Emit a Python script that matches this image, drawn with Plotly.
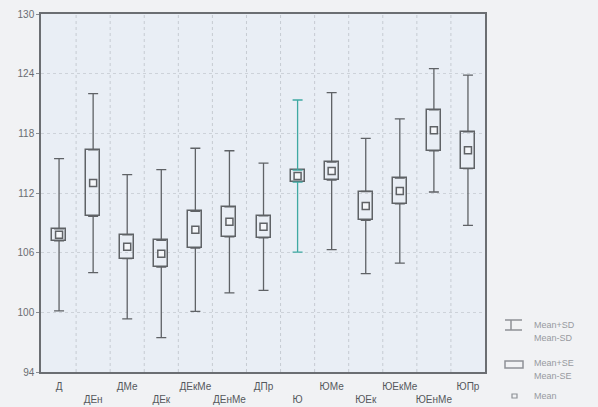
import plotly.graph_objects as go

categories = ["Д", "ДЕн", "ДМе", "ДЕк", "ДЕкМе", "ДЕнМе", "ДПр",
              "Ю", "ЮМе", "ЮЕк", "ЮЕкМе", "ЮЕнМе", "ЮПр"]
means = [107.8, 113.0, 106.6, 105.9, 108.3, 109.1, 108.6,
         113.7, 114.2, 110.7, 112.2, 118.3, 116.3]
sds = [7.65, 9.0, 7.25, 8.45, 8.2, 7.15, 6.4,
       7.65, 7.9, 6.8, 7.25, 6.2, 7.55]
ses = [0.6, 3.35, 1.2, 1.35, 1.85, 1.5, 1.1,
       0.6, 0.9, 1.45, 1.3, 2.05, 1.85]
y_ticks = [94, 100, 106, 112, 118, 124, 130]

LINE = "#5f6266"
TEAL = "#3fa9a3"
PLOT_BG = "#e9eef5"
PAPER_BG = "#f1f2f4"

xs = list(range(len(categories)))
whisk_colors = [TEAL if c == "Ю" else LINE for c in categories]

fig = go.Figure()

# Whiskers (upper and lower) per category
for i in xs:
    col = whisk_colors[i]
    fig.add_trace(go.Scatter(
        x=[i], y=[means[i] + ses[i]], mode="markers",
        marker=dict(size=1, color="rgba(0,0,0,0)"),
        error_y=dict(type="data", symmetric=False, array=[sds[i] - ses[i]],
                     arrayminus=[0], color=col, thickness=1.3, width=5),
        showlegend=False, hoverinfo="skip"))
    fig.add_trace(go.Scatter(
        x=[i], y=[means[i] - ses[i]], mode="markers",
        marker=dict(size=1, color="rgba(0,0,0,0)"),
        error_y=dict(type="data", symmetric=False, array=[0],
                     arrayminus=[sds[i] - ses[i]], color=col, thickness=1.3, width=5),
        showlegend=False, hoverinfo="skip"))

# SE boxes
fig.add_trace(go.Bar(
    x=xs, y=[2 * s for s in ses], base=[m - s for m, s in zip(means, ses)],
    width=0.41, marker=dict(color="rgba(0,0,0,0)", line=dict(color=LINE, width=1.5)),
    showlegend=False, hoverinfo="skip"))

# Means
fig.add_trace(go.Scatter(
    x=xs, y=means, mode="markers",
    marker=dict(symbol="square", size=7, color="#f4f6f9",
                line=dict(color=LINE, width=1.5)),
    showlegend=False, hoverinfo="skip"))

ticktext = [c if i % 2 == 0 else "<br>" + c for i, c in enumerate(categories)]

fig.update_layout(
    width=598, height=407,
    margin=dict(l=41, r=113, t=14, b=35, autoexpand=False),
    paper_bgcolor=PAPER_BG, plot_bgcolor=PLOT_BG,
    font=dict(family="Liberation Sans, Arial, sans-serif", color="#6a6d72", size=10),
    bargap=0,
)
fig.update_xaxes(
    range=[-0.53, 12.5], tickvals=xs, ticktext=ticktext, tickangle=0, automargin=False,
    showgrid=False, zeroline=False, showline=True, linecolor="#6b6e72", linewidth=1.5,
    mirror=True, ticks="", ticklabelstandoff=4,
    tickfont=dict(size=10, color="#55585c", family="Liberation Sans, Arial"),
)
# vertical dotted gridlines between categories
for i in range(len(categories) - 1):
    fig.add_shape(type="line", xref="x", yref="paper", x0=i + 0.5, x1=i + 0.5, y0=0, y1=1,
                  line=dict(color="#c6cbd2", width=1, dash="dot"), layer="below")
fig.update_yaxes(
    range=[94, 130], tickvals=y_ticks, ticktext=[str(t) for t in y_ticks], automargin=False,
    showgrid=True, gridcolor="#cdd2d9", griddash="dot", gridwidth=1,
    zeroline=False, showline=True, linecolor="#6b6e72", linewidth=1.5, mirror=True,
    ticks="outside", ticklen=3, tickcolor="#8a8d92",
    tickfont=dict(size=10, color="#6a6d72"),
)

# Custom legend (paper coords)
def px(xp):
    return (xp - 41) / (598 - 41 - 113)

def py(yp):
    return (407 - 35 - yp) / (407 - 14 - 35)

lg = "#8e9196"
fig.add_shape(type="line", xref="paper", yref="paper", x0=px(505), x1=px(522), y0=py(320), y1=py(320), line=dict(color=lg, width=1.5))
fig.add_shape(type="line", xref="paper", yref="paper", x0=px(505), x1=px(522), y0=py(330), y1=py(330), line=dict(color=lg, width=1.5))
fig.add_shape(type="line", xref="paper", yref="paper", x0=px(511), x1=px(511), y0=py(320), y1=py(330), line=dict(color=lg, width=1.5))
fig.add_shape(type="rect", xref="paper", yref="paper", x0=px(505), x1=px(523), y0=py(361), y1=py(368), line=dict(color=lg, width=1.5))
fig.add_shape(type="rect", xref="paper", yref="paper", x0=px(512), x1=px(517), y0=py(394), y1=py(398), line=dict(color=lg, width=1.2))

legend_texts = [("Mean+SD", 325), ("Mean-SD", 338), ("Mean+SE", 363), ("Mean-SE", 376), ("Mean", 396)]
for t, yp in legend_texts:
    fig.add_annotation(xref="paper", yref="paper", x=px(532), y=py(yp), text=t,
                       showarrow=False, xanchor="left", yanchor="middle",
                       font=dict(size=9, color="#979a9f"))

fig.write_html("out.html", config={"displayModeBar": False},
               post_script="document.body.style.margin='0';document.body.style.overflow='hidden';")
